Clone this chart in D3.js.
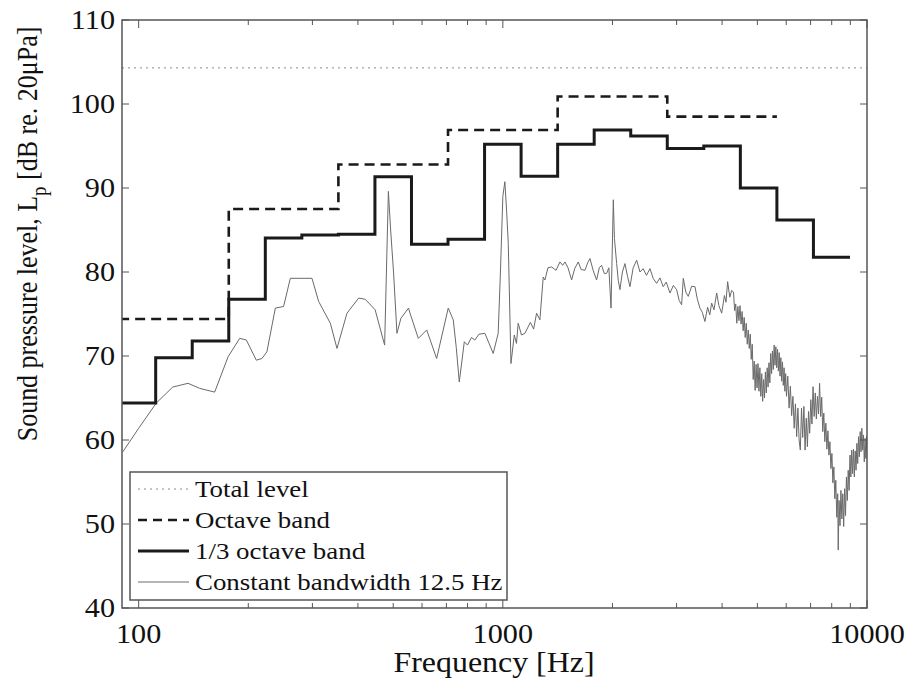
<!DOCTYPE html>
<html>
<head>
<meta charset="utf-8">
<script src="https://cdn.jsdelivr.net/npm/d3@7"></script>
<style>
  body { margin: 0; background: #fff; }
  svg { display: block; }
  text { font-family: "Liberation Serif", "Times New Roman", serif; fill: #111; }
</style>
</head>
<body>
<svg width="912" height="682"></svg>
<script>
// values
var totalLevel = 104.3

// octave bands: nominal centre freq and level
var octCenters = [125, 250, 500, 1000, 2000, 4000]
var octLevels = [74.4, 87.5, 92.8, 96.9, 100.9, 98.5]

// 1/3 octave bands
var thirdCenters = [100, 125, 160, 200, 250, 315, 400, 500, 630, 800, 1000, 1250, 1600,
  2000, 2500, 3150, 4000, 5000, 6300, 8000]
var thirdLevels = [64.4, 69.8, 71.8, 76.75, 84.05, 84.4, 84.5, 91.35, 83.3, 83.9, 95.2,
  91.4, 95.2, 96.9, 96.2, 94.7, 95.0, 90.0, 86.2, 81.75]

// constant bandwidth 12.5 Hz spectrum [Hz, dB]
var narrowband = [
  [90.5, 58.6], [100, 61.4], [111.8, 64.4], [124, 66.3], [136.6, 66.75], [147, 66.15],
  [161.7, 65.7], [176, 69.9], [189.4, 72.1], [197.6, 71.9], [210.4, 69.5], [218, 69.7],
  [225, 70.5], [237.3, 75.7], [250, 75.9], [260.9, 79.25], [299.2, 79.25], [312, 76.5],
  [336, 73.9], [350.4, 70.9], [373.3, 75.1], [402, 76.9], [419, 76.75], [446, 75.5],
  [473.6, 71.3], [485, 89.6], [492, 85], [501, 80], [512, 72.7], [525, 74.5], [551, 75.7],
  [556, 75.1], [586, 72.1], [618, 73.1], [658, 69.7], [708, 75.7], [731, 74.3], [745, 71],
  [759.3, 66.9], [783.8, 71.7], [800, 71.3], [820, 72.2], [838, 71.9], [860, 72.6],
  [893, 72.7], [941, 70.3], [971, 72.7], [985, 80], [1000, 89], [1013, 90.75], [1025, 87],
  [1035, 83.4], [1052.7, 69.1], [1075, 72.5], [1090, 71.5], [1102, 73.9], [1125, 72.5],
  [1150, 72.7], [1190, 74], [1215, 73.2], [1238, 75.1], [1264, 74.3], [1291, 79.4],
  [1305, 79.05], [1330, 80.5], [1361, 80.6], [1400, 80.2], [1435, 81.2], [1460, 80.8],
  [1481, 81.2], [1510, 80.5], [1545, 79.05], [1575, 80.4], [1611, 81.2], [1640, 80.3],
  [1681, 80.2], [1710, 81.1], [1735, 81.6], [1770, 80.2], [1809, 79.05], [1840, 80.5],
  [1867, 80.8], [1900, 79.8], [1928, 79.85], [1955, 80.5], [1982, 75.7], [2011, 88.6],
  [2025, 84], [2054, 81.0], [2075, 79], [2097, 77.9], [2130, 80], [2164, 81.0], [2200, 79.5],
  [2234, 78.25], [2280, 80.5], [2331, 81.4], [2380, 80], [2429, 80.4], [2480, 79.6],
  [2535, 80.4], [2590, 79.2], [2645, 78.65], [2700, 79.3], [2757, 78.25], [2810, 78.8],
  [2877, 77.5], [2940, 78.4], [3001, 77.9], [3050, 76.6], [3097, 76.1], [3130, 79.25],
  [3180, 77.6], [3230, 77.1], [3300, 78.3], [3370, 78.25], [3420, 76.8], [3477, 75.7],
  [3530, 75.2], [3589, 74.1], [3650, 75.8], [3700, 74.9], [3745, 76.3], [3800, 75.5],
  [3866, 77.5], [3920, 76], [3990, 75.1], [4060, 77.2], [4100, 76.4], [4143, 78.85],
  [4200, 77], [4250, 77.8],
  [4300, 77.6], [4330, 75.4], [4360, 76.2], [4390, 73.9], [4420, 75.9], [4450, 74.2],
  [4480, 76.0], [4510, 73.8], [4540, 75.3], [4570, 73.0], [4600, 74.6], [4630, 72.2],
  [4660, 73.9], [4690, 71.4], [4720, 73.1], [4750, 70.9], [4780, 72.6], [4810, 69.6],
  [4840, 71.4], [4870, 67.2], [4900, 69.4], [4930, 65.9], [4960, 69.0], [4990, 66.2],
  [5020, 69.1], [5050, 65.8], [5080, 68.6], [5110, 65.2], [5140, 67.9], [5170, 64.6],
  [5200, 67.2], [5230, 65.0], [5260, 68.1], [5290, 65.6], [5320, 68.6], [5350, 66.3],
  [5380, 69.2], [5410, 66.8], [5440, 70.3], [5470, 67.9], [5500, 70.6], [5530, 68.4],
  [5560, 71.3], [5590, 68.9], [5620, 71.1], [5650, 68.6], [5680, 70.8], [5710, 68.2],
  [5740, 70.4], [5770, 67.6], [5800, 69.8], [5830, 67.0], [5860, 69.3], [5890, 66.5],
  [5920, 68.6], [5950, 65.8], [5980, 67.9],
  [6010, 65.2], [6060, 67.6], [6110, 63.8], [6160, 66.4], [6210, 62.9], [6260, 65.2],
  [6310, 61.4], [6360, 64.3], [6410, 60.4], [6460, 63.8], [6510, 60.0], [6560, 58.8],
  [6610, 63.8], [6660, 60.3], [6710, 64.0], [6760, 58.8], [6810, 62.6], [6860, 59.2],
  [6910, 63.4], [6960, 60.8], [7010, 64.8], [7060, 61.9], [7110, 66.35], [7160, 62.8],
  [7210, 65.6], [7260, 62.5], [7310, 65.2], [7360, 63.1], [7410, 66.75], [7460, 62.8],
  [7510, 65.1], [7560, 61.0], [7610, 63.2], [7660, 59.8], [7710, 62.0], [7760, 58.9],
  [7810, 61.1], [7860, 58.2], [7910, 59.8], [7960, 56.6], [8010, 58.4], [8060, 54.9],
  [8110, 56.8], [8160, 53.0], [8210, 55.2], [8260, 50.8], [8310, 53.6], [8337, 46.9],
  [8380, 52.8], [8430, 49.8], [8480, 54.0], [8530, 50.6], [8580, 53.6], [8630, 49.7],
  [8680, 54.2], [8730, 51.0], [8780, 55.6], [8830, 52.8], [8880, 56.4], [8930, 54.0],
  [8980, 58.2], [9030, 55.6], [9080, 58.8], [9130, 56.0], [9180, 58.9], [9230, 55.6],
  [9280, 58.7], [9330, 56.4], [9380, 59.6], [9430, 57.2], [9480, 60.4], [9530, 58.0],
  [9580, 61.0], [9630, 58.6], [9680, 61.4], [9730, 58.8], [9780, 60.6], [9830, 57.4],
  [9880, 60.2], [9930, 57.8], [9980, 60.4], [10000, 59.0]
]

var xTicks = [100, 1000, 10000]
var yTicks = [40, 50, 60, 70, 80, 90, 100, 110]
var legendLabels = ["Total level", "Octave band", "1/3 octave band", "Constant bandwidth 12.5 Hz"]

var svg = d3.select("svg")
// plot box (note: "top" is taken by window.top, so px* names)
var pxLeft = 122, pxRight = 867, pxTop = 20, pxBottom = 608
var stretch = 1.12  // the original figure is a bit wider than tall

var x = d3.scaleLog().domain([90, 10000]).range([pxLeft, pxRight])
var y = d3.scaleLinear().domain([40, 110]).range([pxBottom, pxTop])

svg.append("clipPath").attr("id", "plot")
  .append("rect").attr("x", pxLeft).attr("y", pxTop)
  .attr("width", pxRight - pxLeft).attr("height", pxBottom - pxTop)

// turn band centres into step points (exact base-2 centres)
function bandSteps(centers, levels, frac) {
  var pts = []
  centers.forEach(function(c, i) {
    var n = Math.round(Math.log2(c / 1000) / frac) * frac
    var fc = 1000 * Math.pow(2, n)
    pts.push([fc * Math.pow(2, -frac / 2), levels[i]])
    if (i == centers.length - 1) pts.push([fc * Math.pow(2, frac / 2), levels[i]])
  })
  return pts
}

var step = d3.line().x(function(d) { return x(d[0]) }).y(function(d) { return y(d[1]) })
  .curve(d3.curveStepAfter)
var line = d3.line().x(function(d) { return x(d[0]) }).y(function(d) { return y(d[1]) })

var g = svg.append("g").attr("clip-path", "url(#plot)")

g.append("line")
  .attr("x1", pxLeft).attr("x2", pxRight)
  .attr("y1", y(totalLevel)).attr("y2", y(totalLevel))
  .attr("stroke", "#8a8a8a").attr("stroke-width", 1).attr("stroke-dasharray", "2,4")

g.append("path").datum(narrowband)
  .attr("d", line).attr("fill", "none")
  .attr("stroke", "#6a6a6a").attr("stroke-width", 1)

g.append("path").datum(bandSteps(octCenters, octLevels, 1))
  .attr("d", step).attr("fill", "none")
  .attr("stroke", "#1a1a1a").attr("stroke-width", 2.6).attr("stroke-dasharray", "10,6")

g.append("path").datum(bandSteps(thirdCenters, thirdLevels, 1 / 3))
  .attr("d", step).attr("fill", "none")
  .attr("stroke", "#1a1a1a").attr("stroke-width", 3)

// ticks, inward on all four sides
var minor = []
;[100, 1000].forEach(function(d) { for (var k = 2; k < 10; k++) minor.push(d * k) })
var ticks = svg.append("g").attr("stroke", "#555").attr("stroke-width", 1)
xTicks.concat(minor).forEach(function(f) {
  var len = xTicks.indexOf(f) >= 0 ? 8 : 5
  ticks.append("line").attr("x1", x(f)).attr("x2", x(f)).attr("y1", pxBottom).attr("y2", pxBottom - len)
  ticks.append("line").attr("x1", x(f)).attr("x2", x(f)).attr("y1", pxTop).attr("y2", pxTop + len)
})
yTicks.forEach(function(v) {
  ticks.append("line").attr("x1", pxLeft).attr("x2", pxLeft + 7).attr("y1", y(v)).attr("y2", y(v))
  ticks.append("line").attr("x1", pxRight).attr("x2", pxRight - 7).attr("y1", y(v)).attr("y2", y(v))
})

svg.append("rect")
  .attr("x", pxLeft).attr("y", pxTop).attr("width", pxRight - pxLeft).attr("height", pxBottom - pxTop)
  .attr("fill", "none").attr("stroke", "#555").attr("stroke-width", 1.5)

// text helper, stretched sideways like the source
function label(px, py, str, size, anchor, rot) {
  var t = svg.append("g")
    .attr("transform", "translate(" + px + "," + py + ")" + (rot ? " rotate(" + rot + ")" : "") +
      (rot ? " scale(1," + stretch + ")" : " scale(" + stretch + ",1)"))
    .append("text").attr("text-anchor", anchor || "start").style("font-size", size + "px")
  return t.text(str)
}

xTicks.forEach(function(f) { label(x(f), 643, d3.format("d")(f), 27, "middle") })
yTicks.forEach(function(v) { label(115, y(v) + 9, v, 27, "end") })

label(494, 672, "Frequency [Hz]", 28.5, "middle")

var yl = label(37, 234, "", 26, "middle", -90)
yl.append("tspan").text("Sound pressure level, L")
yl.append("tspan").attr("dy", 8).style("font-size", "19px").text("p")
yl.append("tspan").attr("dy", -8).text(" [dB re. 20\u03bcPa]")

// legend
var lg = svg.append("g")
lg.append("rect").attr("x", 130).attr("y", 472).attr("width", 377).attr("height", 128)
  .attr("fill", "#fff").attr("stroke", "#555").attr("stroke-width", 1.5)
var legendStyles = [
  { stroke: "#8a8a8a", width: 1, dash: "2,4" },
  { stroke: "#1a1a1a", width: 2.6, dash: "9,6" },
  { stroke: "#1a1a1a", width: 3, dash: null },
  { stroke: "#6a6a6a", width: 1, dash: null }
]
legendLabels.forEach(function(name, i) {
  var ly = 489 + i * 31
  var s = legendStyles[i]
  lg.append("line").attr("x1", 138).attr("x2", 189).attr("y1", ly).attr("y2", ly)
    .attr("stroke", s.stroke).attr("stroke-width", s.width)
    .attr("stroke-dasharray", s.dash)
  label(195, ly + 8, name, 24, "start")
})
</script>
</body>
</html>
